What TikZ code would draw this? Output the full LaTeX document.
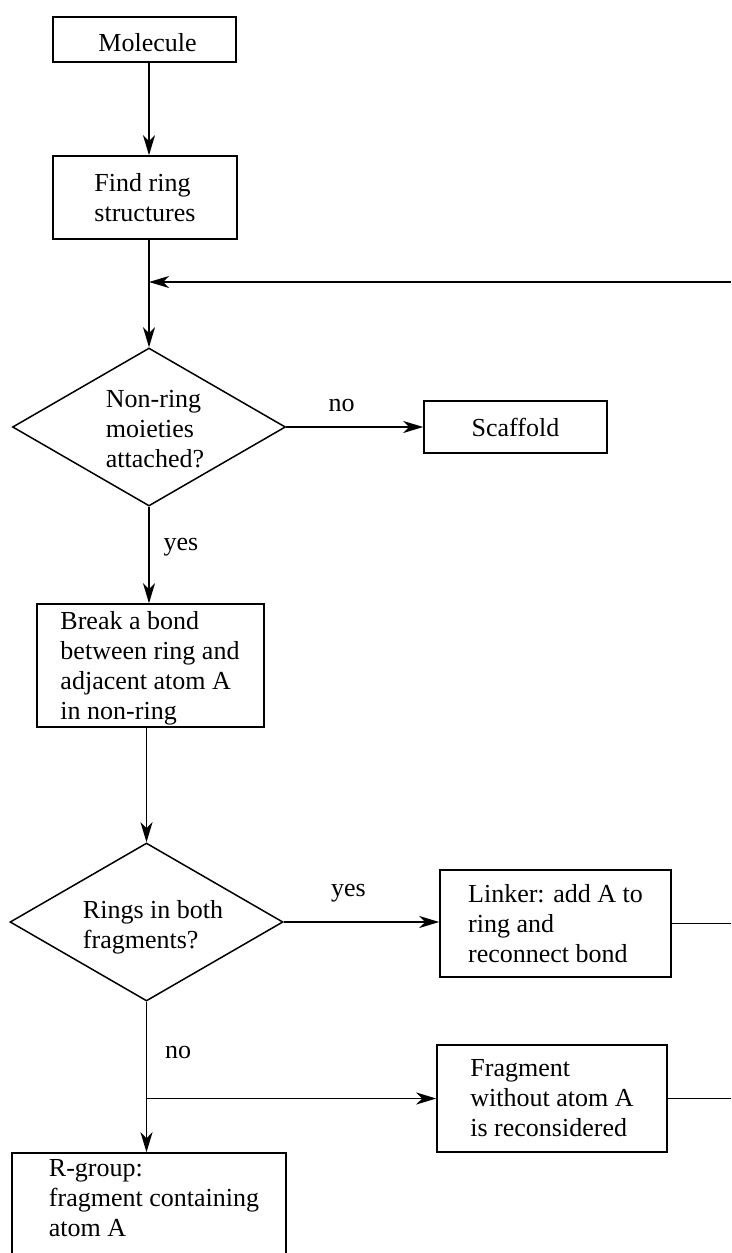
\documentclass[tikz,border=0pt]{standalone}
\usepackage{fontspec}
\setmainfont{Liberation Serif}
\usetikzlibrary{shapes.geometric,arrows.meta}
\begin{document}
\begin{tikzpicture}[x=1pt,y=-1pt,
  box/.style={draw,line width=1.5pt,inner sep=0pt,align=left,font=\fontsize{26}{30}\selectfont},
  dia/.style={draw,diamond,line width=1.5pt,inner sep=0pt,minimum width=273pt,minimum height=158pt},
  txt/.style={inner sep=0pt,align=left,font=\fontsize{26}{30}\selectfont},
  conn/.style={line width=1.4pt},
  arr/.style={conn,-{Stealth[length=20pt,width=12pt,inset=6pt]}},
  lab/.style={inner sep=0pt,font=\fontsize{26}{30}\selectfont}]
\useasboundingbox (0,0) rectangle (731,1253);
\clip (0,0) rectangle (731,1253);

\coordinate (spine) at (149,0);
\coordinate (fbR) at (731,282);

\node[box,minimum width=183pt,minimum height=45pt] (mol) at (144.5,39.5) {};
\node[txt] (molt) at (147.5,43) {Molecule};
\node[box,minimum width=184pt,minimum height=83pt] (find) at (145,197.5) {Find ring\\structures};
\node[dia] (d1) at (149,427) {};
\node[txt] (d1t) at (155,429) {Non-ring\\moieties\\attached?};
\node[box,minimum width=183pt,minimum height=52pt] (scaf) at (515.5,427) {Scaffold};
\node[box,minimum width=227pt,minimum height=123pt] (brk) at (150.5,665.5) {};
\node[txt] (brkt) at (150,668) {Break a bond\\between ring and\\adjacent atom A\\in non-ring};
\node[dia] (d2) at (146.5,922) {};
\node[txt] (d2t) at (153,927) {Rings in both\\fragments?};
\node[box,minimum width=231pt,minimum height=107pt] (lnk) at (555.5,923.5) {Linker: add A to\\ring and\\reconnect bond};
\node[box,minimum width=230pt,minimum height=107pt] (frag) at (552,1098.5) {Fragment\\without atom A\\is reconsidered};
\node[box,minimum width=274pt,minimum height=108pt] (rg) at (149,1207) {};
\node[txt] (rgt) at (154,1198) {R-group:\\fragment containing\\atom A};

\node[lab] (no1) at (341.5,405) {no};
\node[lab] (yes1) at (181,547) {yes};
\node[lab] (yes2) at (348.5,893) {yes};
\node[lab] (no2) at (178,1052) {no};

\draw[arr] (mol.south -| spine) -- (find.north -| spine);
\draw[arr] (find.south -| spine) -- (d1.north);
\draw[arr] (fbR) -- (fbR -| spine);
\draw[arr] (d1.east) -- (d1.east -| scaf.west);
\draw[arr] (d1.south) -- (d1.south |- brk.north);
\draw[arr] (d2.north |- brk.south) -- (d2.north);
\draw[arr] (d2.east) -- (d2.east -| lnk.west);
\draw[conn] (lnk.east) -- (lnk.east -| fbR);
\draw[arr] (d2.south) -- (d2.south |- rg.north);
\coordinate (br) at (d2.south |- frag.west);
\draw[arr] (br) -- (frag.west);
\draw[conn] (frag.east) -- (frag.east -| fbR);
\end{tikzpicture}
\end{document}
